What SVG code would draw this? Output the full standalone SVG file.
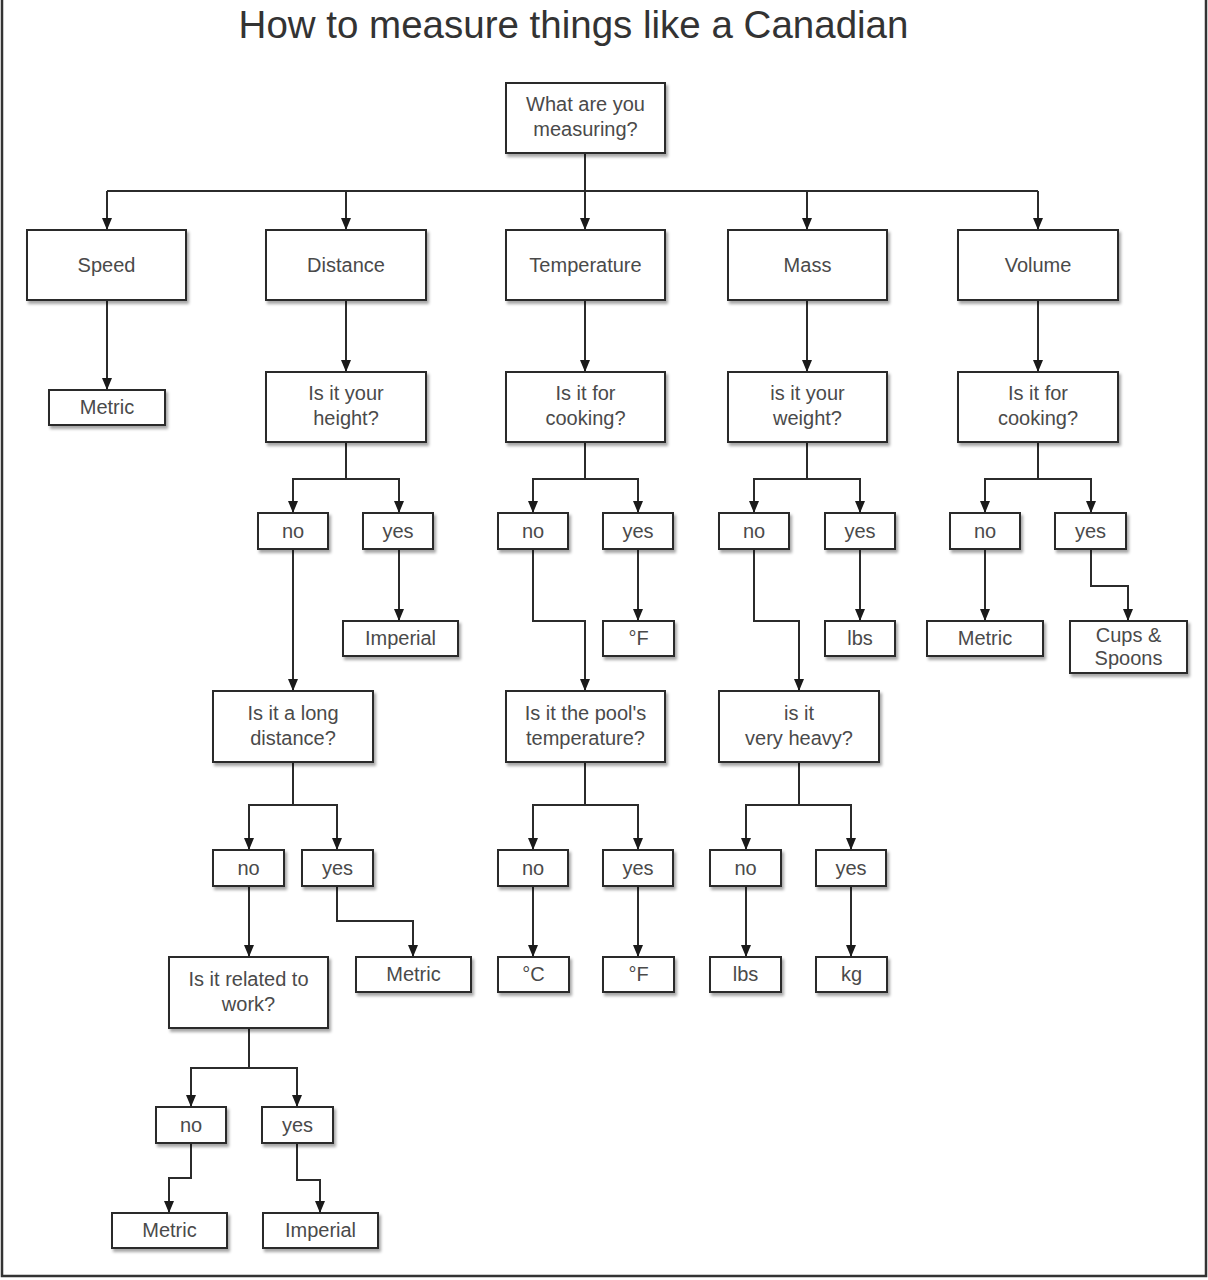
<svg xmlns="http://www.w3.org/2000/svg" width="1208" height="1280" viewBox="0 0 1208 1280">
<style>
.box{fill:#fff;stroke:#2b2b2b;stroke-width:2;filter:url(#sh)}
.lbl{font-family:"Liberation Sans",Arial,sans-serif;font-size:20px;fill:#4a4a4a;text-anchor:middle}
.title{font-family:"Liberation Sans",Arial,sans-serif;font-size:38.5px;fill:#333;text-anchor:middle}
.c{fill:none;stroke:#2b2b2b;stroke-width:2}
.a{marker-end:url(#ah)}
.frame{fill:none;stroke:#333;stroke-width:2.5}
</style>
<defs>
<filter id="sh" x="-10%" y="-10%" width="130%" height="140%">
<feDropShadow dx="2" dy="3" stdDeviation="1.5" flood-color="#000" flood-opacity="0.35"/>
</filter>
<marker id="ah" viewBox="0 0 12 10" refX="12" refY="5" markerWidth="12" markerHeight="10" markerUnits="userSpaceOnUse" orient="auto">
<path d="M0,0 L12,5 L0,10 z" fill="#1a1a1a"/>
</marker>
</defs>
<rect width="1208" height="1280" fill="#fff"/>
<path class="frame" d="M2 0 V1276 H1206 V0"/>
<text class="title" x="573.5" y="38">How to measure things like a Canadian</text>

<g id="connectors">
<path class="c a" d="M585 153 V230"/>
<path class="c" d="M107 191 H1038"/>
<path class="c a" d="M107 191 V230"/>
<path class="c a" d="M346 191 V230"/>
<path class="c a" d="M807 191 V230"/>
<path class="c a" d="M1038 191 V230"/>
<path class="c a" d="M107 300 V390"/>
<path class="c a" d="M346 300 V372"/>
<path class="c a" d="M585 300 V372"/>
<path class="c a" d="M807 300 V372"/>
<path class="c a" d="M1038 300 V372"/>
<path class="c a" d="M346 442 V479 H293 V513"/>
<path class="c a" d="M346 479 H399 V513"/>
<path class="c a" d="M399 549 V621"/>
<path class="c a" d="M293 549 V691"/>
<path class="c a" d="M293 762 V805 H249 V850"/>
<path class="c a" d="M293 805 H337 V850"/>
<path class="c a" d="M337 886 V921 H413 V957"/>
<path class="c a" d="M249 886 V957"/>
<path class="c a" d="M249 1028 V1068 H191 V1107"/>
<path class="c a" d="M249 1068 H297 V1107"/>
<path class="c a" d="M191 1143 V1178 H169 V1213"/>
<path class="c a" d="M297 1143 V1180 H320 V1213"/>
<path class="c a" d="M585 442 V479 H533 V513"/>
<path class="c a" d="M585 479 H638 V513"/>
<path class="c a" d="M638 549 V621"/>
<path class="c a" d="M533 549 V621 H585 V691"/>
<path class="c a" d="M585 762 V805 H533 V850"/>
<path class="c a" d="M585 805 H638 V850"/>
<path class="c a" d="M533 886 V957"/>
<path class="c a" d="M638 886 V957"/>
<path class="c a" d="M807 442 V479 H754 V513"/>
<path class="c a" d="M807 479 H860 V513"/>
<path class="c a" d="M860 549 V621"/>
<path class="c a" d="M754 549 V621 H799 V691"/>
<path class="c a" d="M799 762 V805 H746 V850"/>
<path class="c a" d="M799 805 H851 V850"/>
<path class="c a" d="M746 886 V957"/>
<path class="c a" d="M851 886 V957"/>
<path class="c a" d="M1038 442 V479 H985 V513"/>
<path class="c a" d="M1038 479 H1091 V513"/>
<path class="c a" d="M985 549 V621"/>
<path class="c a" d="M1091 549 V586 H1128 V621"/>
</g>

<g id="q0"><rect class="box" x="506" y="83" width="159" height="70"/><text class="lbl" x="585.5" y="111">What are you</text><text class="lbl" x="585.5" y="136">measuring?</text></g>
<g id="speed"><rect class="box" x="27" y="230" width="159" height="70"/><text class="lbl" x="106.5" y="272">Speed</text></g>
<g id="distance"><rect class="box" x="266" y="230" width="160" height="70"/><text class="lbl" x="346" y="272">Distance</text></g>
<g id="temperature"><rect class="box" x="506" y="230" width="159" height="70"/><text class="lbl" x="585.5" y="272">Temperature</text></g>
<g id="mass"><rect class="box" x="728" y="230" width="159" height="70"/><text class="lbl" x="807.5" y="272">Mass</text></g>
<g id="volume"><rect class="box" x="958" y="230" width="160" height="70"/><text class="lbl" x="1038" y="272">Volume</text></g>

<g id="speed_metric"><rect class="box" x="49" y="390" width="116" height="35"/><text class="lbl" x="107" y="414">Metric</text></g>

<g id="q_height"><rect class="box" x="266" y="372" width="160" height="70"/><text class="lbl" x="346" y="400">Is it your</text><text class="lbl" x="346" y="425">height?</text></g>
<g id="q_cook_t"><rect class="box" x="506" y="372" width="159" height="70"/><text class="lbl" x="585.5" y="400">Is it for</text><text class="lbl" x="585.5" y="425">cooking?</text></g>
<g id="q_weight"><rect class="box" x="728" y="372" width="159" height="70"/><text class="lbl" x="807.5" y="400">is it your</text><text class="lbl" x="807.5" y="425">weight?</text></g>
<g id="q_cook_v"><rect class="box" x="958" y="372" width="160" height="70"/><text class="lbl" x="1038" y="400">Is it for</text><text class="lbl" x="1038" y="425">cooking?</text></g>

<g id="d_no"><rect class="box" x="258" y="513" width="70" height="36"/><text class="lbl" x="293" y="538">no</text></g>
<g id="d_yes"><rect class="box" x="363" y="513" width="70" height="36"/><text class="lbl" x="398" y="538">yes</text></g>
<g id="d_imperial"><rect class="box" x="343" y="621" width="115" height="35"/><text class="lbl" x="400.5" y="645">Imperial</text></g>
<g id="q_long"><rect class="box" x="213" y="691" width="160" height="71"/><text class="lbl" x="293" y="720">Is it a long</text><text class="lbl" x="293" y="745">distance?</text></g>
<g id="l_no"><rect class="box" x="213" y="850" width="71" height="36"/><text class="lbl" x="248.5" y="875">no</text></g>
<g id="l_yes"><rect class="box" x="302" y="850" width="71" height="36"/><text class="lbl" x="337.5" y="875">yes</text></g>
<g id="l_metric"><rect class="box" x="356" y="957" width="115" height="35"/><text class="lbl" x="413.5" y="981">Metric</text></g>
<g id="q_work"><rect class="box" x="169" y="957" width="159" height="71"/><text class="lbl" x="248.5" y="986">Is it related to</text><text class="lbl" x="248.5" y="1011">work?</text></g>
<g id="w_no"><rect class="box" x="156" y="1107" width="70" height="36"/><text class="lbl" x="191" y="1132">no</text></g>
<g id="w_yes"><rect class="box" x="262" y="1107" width="71" height="36"/><text class="lbl" x="297.5" y="1132">yes</text></g>
<g id="w_metric"><rect class="box" x="112" y="1213" width="115" height="35"/><text class="lbl" x="169.5" y="1237">Metric</text></g>
<g id="w_imperial"><rect class="box" x="263" y="1213" width="115" height="35"/><text class="lbl" x="320.5" y="1237">Imperial</text></g>

<g id="t_no"><rect class="box" x="498" y="513" width="70" height="36"/><text class="lbl" x="533" y="538">no</text></g>
<g id="t_yes"><rect class="box" x="603" y="513" width="70" height="36"/><text class="lbl" x="638" y="538">yes</text></g>
<g id="t_f1"><rect class="box" x="603" y="621" width="71" height="35"/><text class="lbl" x="638.5" y="645">°F</text></g>
<g id="q_pool"><rect class="box" x="506" y="691" width="159" height="71"/><text class="lbl" x="585.5" y="720">Is it the pool's</text><text class="lbl" x="585.5" y="745">temperature?</text></g>
<g id="p_no"><rect class="box" x="498" y="850" width="70" height="36"/><text class="lbl" x="533" y="875">no</text></g>
<g id="p_yes"><rect class="box" x="603" y="850" width="70" height="36"/><text class="lbl" x="638" y="875">yes</text></g>
<g id="p_c"><rect class="box" x="498" y="957" width="71" height="35"/><text class="lbl" x="533.5" y="981">°C</text></g>
<g id="p_f"><rect class="box" x="603" y="957" width="71" height="35"/><text class="lbl" x="638.5" y="981">°F</text></g>

<g id="m_no"><rect class="box" x="719" y="513" width="70" height="36"/><text class="lbl" x="754" y="538">no</text></g>
<g id="m_yes"><rect class="box" x="825" y="513" width="70" height="36"/><text class="lbl" x="860" y="538">yes</text></g>
<g id="m_lbs"><rect class="box" x="825" y="621" width="70" height="35"/><text class="lbl" x="860" y="645">lbs</text></g>
<g id="q_heavy"><rect class="box" x="719" y="691" width="160" height="71"/><text class="lbl" x="799" y="720">is it</text><text class="lbl" x="799" y="745">very heavy?</text></g>
<g id="h_no"><rect class="box" x="710" y="850" width="71" height="36"/><text class="lbl" x="745.5" y="875">no</text></g>
<g id="h_yes"><rect class="box" x="816" y="850" width="70" height="36"/><text class="lbl" x="851" y="875">yes</text></g>
<g id="h_lbs"><rect class="box" x="710" y="957" width="71" height="35"/><text class="lbl" x="745.5" y="981">lbs</text></g>
<g id="h_kg"><rect class="box" x="816" y="957" width="71" height="35"/><text class="lbl" x="851.5" y="981">kg</text></g>

<g id="v_no"><rect class="box" x="950" y="513" width="70" height="36"/><text class="lbl" x="985" y="538">no</text></g>
<g id="v_yes"><rect class="box" x="1055" y="513" width="71" height="36"/><text class="lbl" x="1090.5" y="538">yes</text></g>
<g id="v_metric"><rect class="box" x="927" y="621" width="116" height="35"/><text class="lbl" x="985" y="645">Metric</text></g>
<g id="v_cups"><rect class="box" x="1070" y="621" width="117" height="52"/><text class="lbl" x="1128.5" y="642">Cups &amp;</text><text class="lbl" x="1128.5" y="665">Spoons</text></g>
</svg>
